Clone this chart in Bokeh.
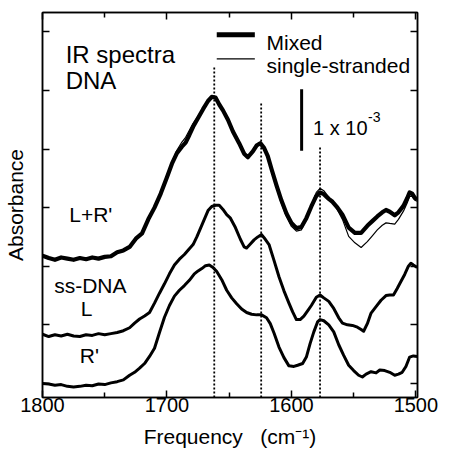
import math
from bokeh.plotting import figure
from bokeh.models import Range1d, FixedTicker, LinearAxis, Label, CustomLabelingPolicy
from bokeh.embed import file_html
from bokeh.resources import INLINE

FONT = "Liberation Sans"

# ---------------- data ----------------
mixed_freq = [1800, 1795, 1790, 1785, 1780, 1775, 1770, 1765, 1760, 1755, 1750, 1745,
              1740, 1735, 1730, 1725, 1720, 1715, 1710, 1705, 1700, 1696, 1692, 1688,
              1685, 1682, 1679, 1675, 1671, 1667, 1664, 1661, 1658, 1655, 1651, 1647,
              1642, 1638, 1635, 1631, 1628, 1625, 1622, 1619, 1616, 1612, 1608, 1604,
              1600, 1596, 1592, 1588, 1584, 1580, 1577, 1574, 1570, 1567, 1563, 1559,
              1554, 1549, 1544, 1539, 1535, 1531, 1527, 1524, 1521, 1517, 1514, 1510,
              1507, 1505, 1503, 1501, 1499]
mixed_abs = [2.18, 2.14, 2.11, 2.15, 2.13, 2.11, 2.14, 2.12, 2.15, 2.13, 2.16, 2.17,
             2.24, 2.27, 2.33, 2.47, 2.56, 2.80, 3.00, 3.24, 3.52, 3.75, 3.93, 4.04,
             4.11, 4.24, 4.38, 4.53, 4.68, 4.82, 4.89, 4.88, 4.76, 4.66, 4.50, 4.30,
             4.10, 3.92, 3.86, 3.96, 4.06, 4.10, 4.02, 3.88, 3.66, 3.38, 3.12, 2.90,
             2.74, 2.65, 2.67, 2.82, 3.02, 3.20, 3.26, 3.23, 3.15, 3.10, 3.00, 2.88,
             2.66, 2.57, 2.57, 2.69, 2.77, 2.85, 2.92, 2.96, 2.93, 2.87, 2.92, 3.03,
             3.16, 3.26, 3.24, 3.17, 3.14]
single_abs = [2.19, 2.15, 2.12, 2.14, 2.14, 2.12, 2.13, 2.13, 2.14, 2.14, 2.15, 2.18,
              2.23, 2.28, 2.34, 2.46, 2.58, 2.79, 3.02, 3.25, 3.53, 3.78, 3.98, 4.12,
              4.20, 4.32, 4.44, 4.56, 4.70, 4.83, 4.88, 4.87, 4.77, 4.66, 4.50, 4.30,
              4.10, 3.93, 3.87, 3.96, 4.06, 4.09, 4.00, 3.86, 3.63, 3.34, 3.07, 2.85,
              2.68, 2.60, 2.62, 2.80, 3.04, 3.26, 3.33, 3.29, 3.18, 3.10, 2.96, 2.80,
              2.51, 2.40, 2.32, 2.42, 2.52, 2.62, 2.70, 2.74, 2.73, 2.72, 2.80, 2.94,
              3.08, 3.19, 3.19, 3.13, 3.11]

l_freq = [1800, 1795, 1790, 1785, 1780, 1775, 1770, 1765, 1760, 1755, 1750, 1745,
          1740, 1735, 1730, 1726, 1722, 1718, 1714, 1710, 1706, 1702, 1698, 1694,
          1690, 1686, 1682, 1679, 1676, 1673, 1670, 1667, 1664, 1661, 1658, 1655,
          1652, 1649, 1645, 1641, 1638, 1636, 1633, 1630, 1627, 1624, 1621, 1618,
          1614, 1610, 1606, 1602, 1599, 1596, 1593, 1590, 1587, 1584, 1580, 1577,
          1574, 1570, 1566, 1562, 1559, 1555, 1551, 1547, 1544, 1542, 1539, 1536,
          1532, 1528, 1524, 1521, 1518, 1515, 1513, 1509, 1506, 1504, 1502, 1499]
l_abs = [0.84, 0.80, 0.83, 0.81, 0.84, 0.81, 0.80, 0.83, 0.82, 0.85, 0.83, 0.85,
         0.87, 0.90, 0.95, 1.03, 1.10, 1.15, 1.21, 1.37, 1.54, 1.70, 1.87, 2.02,
         2.12, 2.20, 2.30, 2.37, 2.50, 2.65, 2.80, 2.95, 3.02, 3.04, 3.04, 2.97,
         2.88, 2.82, 2.66, 2.46, 2.33, 2.31, 2.38, 2.45, 2.50, 2.54, 2.46, 2.37,
         2.10, 1.82, 1.58, 1.37, 1.22, 1.09, 1.09, 1.15, 1.24, 1.33, 1.47, 1.51,
         1.46, 1.40, 1.28, 1.12, 1.03, 1.00, 0.99, 0.96, 0.92, 0.89, 1.02, 1.20,
         1.31, 1.42, 1.50, 1.51, 1.51, 1.62, 1.70, 1.86, 2.00, 2.05, 2.02, 1.98]

r_freq = [1800, 1795, 1790, 1785, 1780, 1775, 1770, 1765, 1760, 1755, 1750, 1745,
          1740, 1735, 1730, 1726, 1722, 1718, 1714, 1710, 1706, 1702, 1698, 1694,
          1690, 1686, 1682, 1678, 1675, 1672, 1669, 1666, 1663, 1660, 1656, 1652,
          1648, 1644, 1640, 1636, 1632, 1628, 1624, 1620, 1617, 1614, 1610, 1606,
          1602, 1598, 1595, 1591, 1588, 1585, 1582, 1579, 1577, 1574, 1570, 1566,
          1562, 1558, 1554, 1550, 1546, 1543, 1540, 1536, 1532, 1529, 1525, 1521,
          1517, 1514, 1511, 1508, 1505, 1502, 1499]
r_abs = [0.00, -0.01, -0.03, -0.02, -0.05, -0.06, -0.05, -0.03, -0.04, -0.01, -0.02, 0.01,
         0.03, 0.06, 0.14, 0.19, 0.26, 0.34, 0.46, 0.60, 0.87, 1.13, 1.33, 1.49,
         1.59, 1.67, 1.76, 1.87, 1.92, 1.96, 2.01, 2.02, 1.98, 1.91, 1.77, 1.59,
         1.46, 1.36, 1.27, 1.21, 1.18, 1.17, 1.17, 1.12, 1.02, 0.86, 0.62, 0.44,
         0.30, 0.29, 0.31, 0.34, 0.45, 0.68, 0.88, 1.05, 1.09, 1.07, 1.00, 0.88,
         0.66, 0.48, 0.31, 0.22, 0.14, 0.11, 0.16, 0.20, 0.18, 0.23, 0.22, 0.19,
         0.14, 0.16, 0.19, 0.29, 0.45, 0.47, 0.46]

x_ticks = [1800, 1700, 1600, 1500]
x_minor_ticks = [1750, 1650, 1550]
y_ticks = [0, 1, 2, 3, 4, 5, 6]

peak_freqs = [1662, 1624.3, 1577]
peak_tops = [5.42, 4.79, 4.06]

X_MIN, X_MAX = 1800, 1498.7
Y_MIN, Y_MAX = -0.24, 6.33

# annotation placement (data coordinates)
scale_bar_x = 1591.8
scale_bar_y = (3.97, 5.02)
legend_x = (1660, 1629.4)
legend_y = (5.95, 5.54)
legend_text_x = 1620.0
legend_text_y = (5.81, 5.42)

# ---------------- figure ----------------
p = figure(width=439, height=450,
           x_range=Range1d(X_MIN, X_MAX), y_range=Range1d(Y_MIN, Y_MAX),
           output_backend="svg", toolbar_location=None,
           min_border_left=42, min_border_right=22,
           min_border_top=12, min_border_bottom=46)
p.grid.visible = False
p.outline_line_color = "black"
p.outline_line_width = 1.5
p.background_fill_color = "white"
p.border_fill_color = "white"


def style_axis(ax, ticker, labels=False):
    ax.ticker = ticker
    ax.axis_line_color = "black"
    ax.axis_line_width = 1.5
    ax.major_tick_in = 7
    ax.major_tick_out = 0
    ax.minor_tick_in = 5
    ax.minor_tick_out = 0
    ax.major_tick_line_width = 1.5
    ax.minor_tick_line_width = 1.5
    ax.major_tick_line_color = "black"
    ax.minor_tick_line_color = "black"
    if labels:
        ax.major_label_text_font = FONT
        ax.major_label_text_font_size = "20px"
        ax.major_label_text_color = "black"
        ax.major_label_text_line_height = 1.0
        ax.major_label_standoff = 0
    else:
        ax.major_label_policy = CustomLabelingPolicy(code="return new Set()")
        ax.major_label_standoff = 0


xt = FixedTicker(ticks=x_ticks, minor_ticks=x_minor_ticks)
yt = FixedTicker(ticks=y_ticks, minor_ticks=[])
xax = p.xaxis[0]
style_axis(xax, xt, labels=True)
xax.axis_label = "Frequency\u00a0\u00a0\u00a0(cm\u207b\u00b9)"
xax.axis_label_text_font = FONT
xax.axis_label_text_font_size = "21px"
xax.axis_label_text_font_style = "normal"
xax.axis_label_text_color = "black"
xax.axis_label_text_line_height = 0.7
xax.axis_label_standoff = 10

yax = p.yaxis[0]
style_axis(yax, yt)
yax.axis_label = "Absorbance"
yax.axis_label_text_font = FONT
yax.axis_label_text_font_size = "21px"
yax.axis_label_text_font_style = "normal"
yax.axis_label_text_color = "black"
yax.axis_label_standoff = 6

top_ax = LinearAxis()
style_axis(top_ax, FixedTicker(ticks=x_ticks, minor_ticks=x_minor_ticks))
p.add_layout(top_ax, "above")
right_ax = LinearAxis()
style_axis(right_ax, FixedTicker(ticks=y_ticks, minor_ticks=[]))
p.add_layout(right_ax, "right")

# ---------------- spectra ----------------
p.line(r_freq, r_abs, line_width=3, line_color="black", line_join="round")
p.line(l_freq, l_abs, line_width=3, line_color="black", line_join="round")
p.line(mixed_freq, mixed_abs, line_width=4.2, line_color="black", line_join="round")
p.line(mixed_freq, single_abs, line_width=1.2, line_color="black", line_join="round")

# dotted peak markers
p.segment(x0=peak_freqs, y0=[Y_MIN] * len(peak_freqs), x1=peak_freqs, y1=peak_tops,
          line_dash="2 2", line_width=1.8, line_color="black")

# scale bar
p.segment(x0=[scale_bar_x], y0=[scale_bar_y[0]], x1=[scale_bar_x], y1=[scale_bar_y[1]],
          line_width=3, line_color="black")

# legend samples
p.segment(x0=[legend_x[0], legend_x[0]], y0=list(legend_y),
          x1=[legend_x[1], legend_x[1]], y1=list(legend_y),
          line_width=[5, 1.2], line_color="black")


def add_text(x, y, text, size="21px"):
    p.add_layout(Label(x=x, y=y, text=text, text_font=FONT, text_font_size=size,
                       text_color="black", text_baseline="alphabetic", text_align="left"))


add_text(legend_text_x, legend_text_y[0], "Mixed")
add_text(legend_text_x, legend_text_y[1], "single-stranded")
add_text(1781.4, 5.62, "IR spectra", size="24px")
add_text(1781.4, 5.17, "DNA", size="24px")
add_text(1582.6, 4.36, "1 x 10", size="20px")
add_text(1538.5, 4.54, "-3", size="14px")
add_text(1778.5, 2.88, "L+R'")
add_text(1790.6, 1.675, "ss-DNA")
add_text(1769.3, 1.285, "L")
add_text(1770.1, 0.476, "R'")

open("out.html", "w").write(file_html(p, INLINE))
